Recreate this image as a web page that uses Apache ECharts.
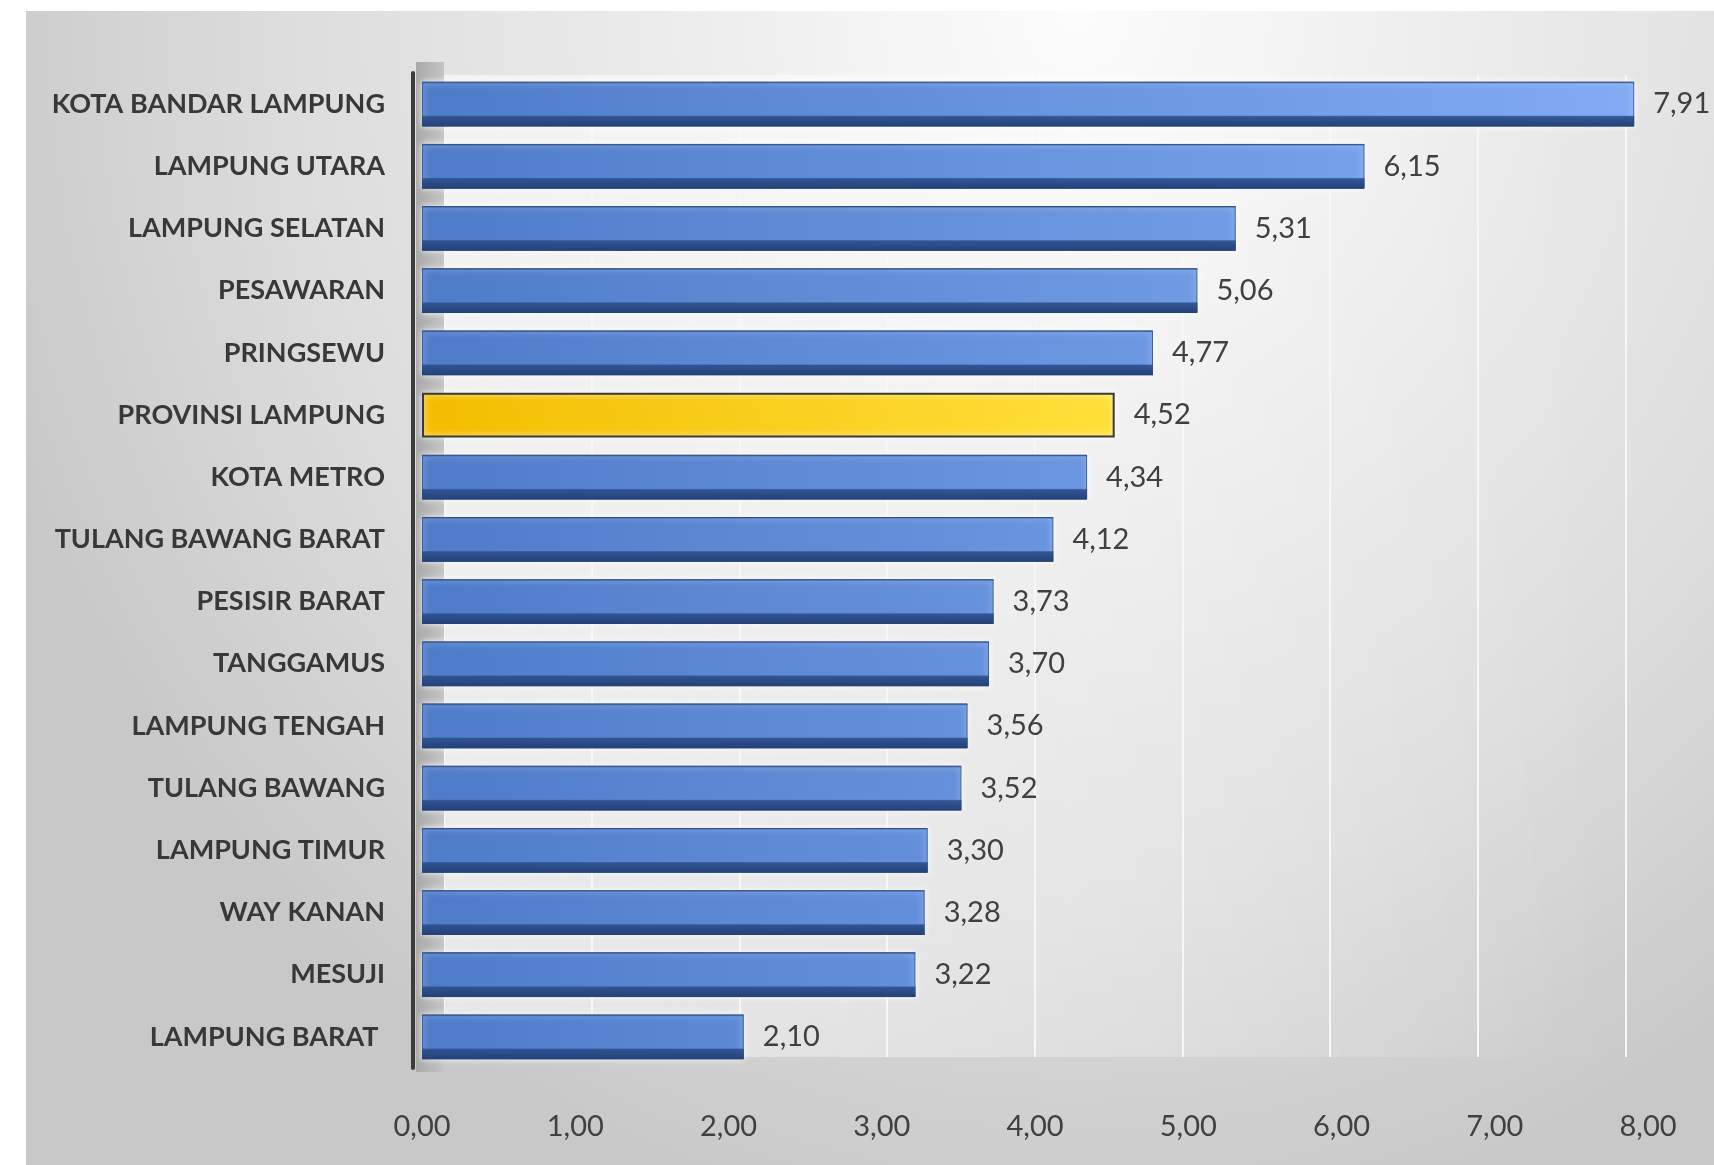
<!DOCTYPE html>
<html>
<head>
<meta charset="utf-8">
<script src="https://cdn.jsdelivr.net/npm/echarts@6/dist/echarts.min.js"></script>
<style>
  html, body { margin: 0; padding: 0; background: #ffffff; }
  #wrap { position: relative; width: 1714px; height: 1165px; overflow: hidden; }
  #panel {
    position: absolute; left: 26px; top: 11px; right: 0; bottom: 0;
    background: radial-gradient(ellipse 1150px 1250px at 1050px 0px,
      #fcfcfc 0%, #ececec 35%, #dcdcdc 70%, #c8c8c8 100%);
  }
  #chart { position: absolute; left: 0; top: 0; width: 1714px; height: 1165px; }
</style>
</head>
<body>
<div id="wrap">
  <div id="panel"></div>
  <div id="chart"></div>
</div>
<script>
// Regions of Lampung, top to bottom
const regions = [
  'KOTA BANDAR LAMPUNG', 'LAMPUNG UTARA', 'LAMPUNG SELATAN', 'PESAWARAN',
  'PRINGSEWU', 'PROVINSI LAMPUNG', 'KOTA METRO', 'TULANG BAWANG BARAT',
  'PESISIR BARAT', 'TANGGAMUS', 'LAMPUNG TENGAH', 'TULANG BAWANG',
  'LAMPUNG TIMUR', 'WAY KANAN', 'MESUJI', 'LAMPUNG BARAT '
];
const values = [
  7.91, 6.15, 5.31, 5.06, 4.77, 4.52, 4.34, 4.12,
  3.73, 3.70, 3.56, 3.52, 3.30, 3.28, 3.22, 2.10
];
const highlightRegion = 'PROVINSI LAMPUNG';
const axisMin = 0, axisMax = 8, axisStep = 1;

const FONT = "Lato, 'Open Sans', sans-serif";
const fmt = v => Number(v).toFixed(2).replace('.', ',');
const G = echarts.graphic;

// front face: lit from the right
const blueFace = new G.LinearGradient(430, 0, 1640, 0, [
  { offset: 0, color: '#4f7cc9' },
  { offset: 1, color: '#82abf3' }
], true);
const goldFace = new G.LinearGradient(0, 0, 1, 0, [
  { offset: 0, color: '#f3bd00' },
  { offset: 1, color: '#ffe03a' }
]);
// top rim and dark underside of each 3D bar
const bevel = new G.LinearGradient(0, 0, 0, 1, [
  { offset: 0, color: 'rgba(40,70,125,0.8)' },
  { offset: 0.05, color: 'rgba(40,70,125,0)' },
  { offset: 0.75, color: 'rgba(40,70,125,0)' },
  { offset: 0.78, color: 'rgba(44,78,140,0.9)' },
  { offset: 1, color: 'rgba(36,64,118,1)' }
]);

const faceData = values.map((v, i) => regions[i] === highlightRegion
  ? { value: v, itemStyle: { color: goldFace, borderColor: '#3a3a3a', borderWidth: 2 } }
  : { value: v });
const bevelData = values.map((v, i) => regions[i] === highlightRegion
  ? { value: v, itemStyle: { color: 'rgba(0,0,0,0)' } }
  : { value: v });

const chart = echarts.init(document.getElementById('chart'), null, { renderer: 'canvas' });
chart.setOption({
  backgroundColor: 'transparent',
  animation: false,
  graphic: [{
    // side wall between the value axis and the back wall
    type: 'rect', z: 1,
    shape: { x: 416, y: 62, width: 28, height: 1010 },
    style: { fill: new G.LinearGradient(0, 0, 1, 0, [
      { offset: 0, color: '#a9a9a9' }, { offset: 1, color: '#c4c4c4' }
    ]) }
  }],
  grid: [
    { left: 422, top: 73, width: 1226, height: 995, containLabel: false },
    // back wall
    { left: 444, top: 75, width: 1181.4, height: 982, show: true, borderWidth: 0,
      backgroundColor: new G.LinearGradient(0, 0, 1, 0, [
        { offset: 0, color: 'rgba(255,255,255,0.55)' },
        { offset: 0.6, color: 'rgba(255,255,255,0.25)' },
        { offset: 1, color: 'rgba(255,255,255,0)' }
      ]) }
  ],
  xAxis: [{
    type: 'value', gridIndex: 0, min: axisMin, max: axisMax, interval: axisStep,
    axisLine: { show: false }, axisTick: { show: false }, splitLine: { show: false },
    axisLabel: { formatter: fmt, margin: 44, color: '#404040', fontFamily: FONT, fontSize: 29 }
  }, {
    type: 'value', gridIndex: 1, min: axisMin, max: axisMax, interval: axisStep,
    axisLine: { show: false }, axisTick: { show: false }, axisLabel: { show: false },
    splitLine: { show: true, lineStyle: { color: '#f7f7f7', width: 2 } }
  }],
  yAxis: [{
    type: 'category', gridIndex: 0, data: regions, inverse: true, offset: 9, z: 5,
    axisLine: { show: true, onZero: false, lineStyle: { color: '#3c3c3c', width: 4 } },
    axisTick: { show: false },
    axisLabel: { margin: 28, color: '#383838', fontFamily: FONT, fontSize: 27, fontWeight: 'bold' }
  }, {
    type: 'category', gridIndex: 1, data: regions, inverse: true, show: false
  }],
  series: [{
    type: 'bar', name: 'face', xAxisIndex: 0, yAxisIndex: 0,
    data: faceData, barCategoryGap: '28%', barGap: '-100%', z: 2,
    itemStyle: { color: blueFace, borderColor: '#3b62a6', borderWidth: 1,
      shadowColor: 'rgba(255,255,255,0.9)', shadowBlur: 6 },
    label: { show: true, position: 'right', distance: 19, formatter: p => fmt(p.value),
      color: '#404040', fontFamily: FONT, fontSize: 29 }
  }, {
    type: 'bar', name: 'bevel', xAxisIndex: 0, yAxisIndex: 0,
    data: bevelData, barCategoryGap: '28%', barGap: '-100%', z: 3,
    itemStyle: { color: bevel }, silent: true
  }]
});
</script>
</body>
</html>
